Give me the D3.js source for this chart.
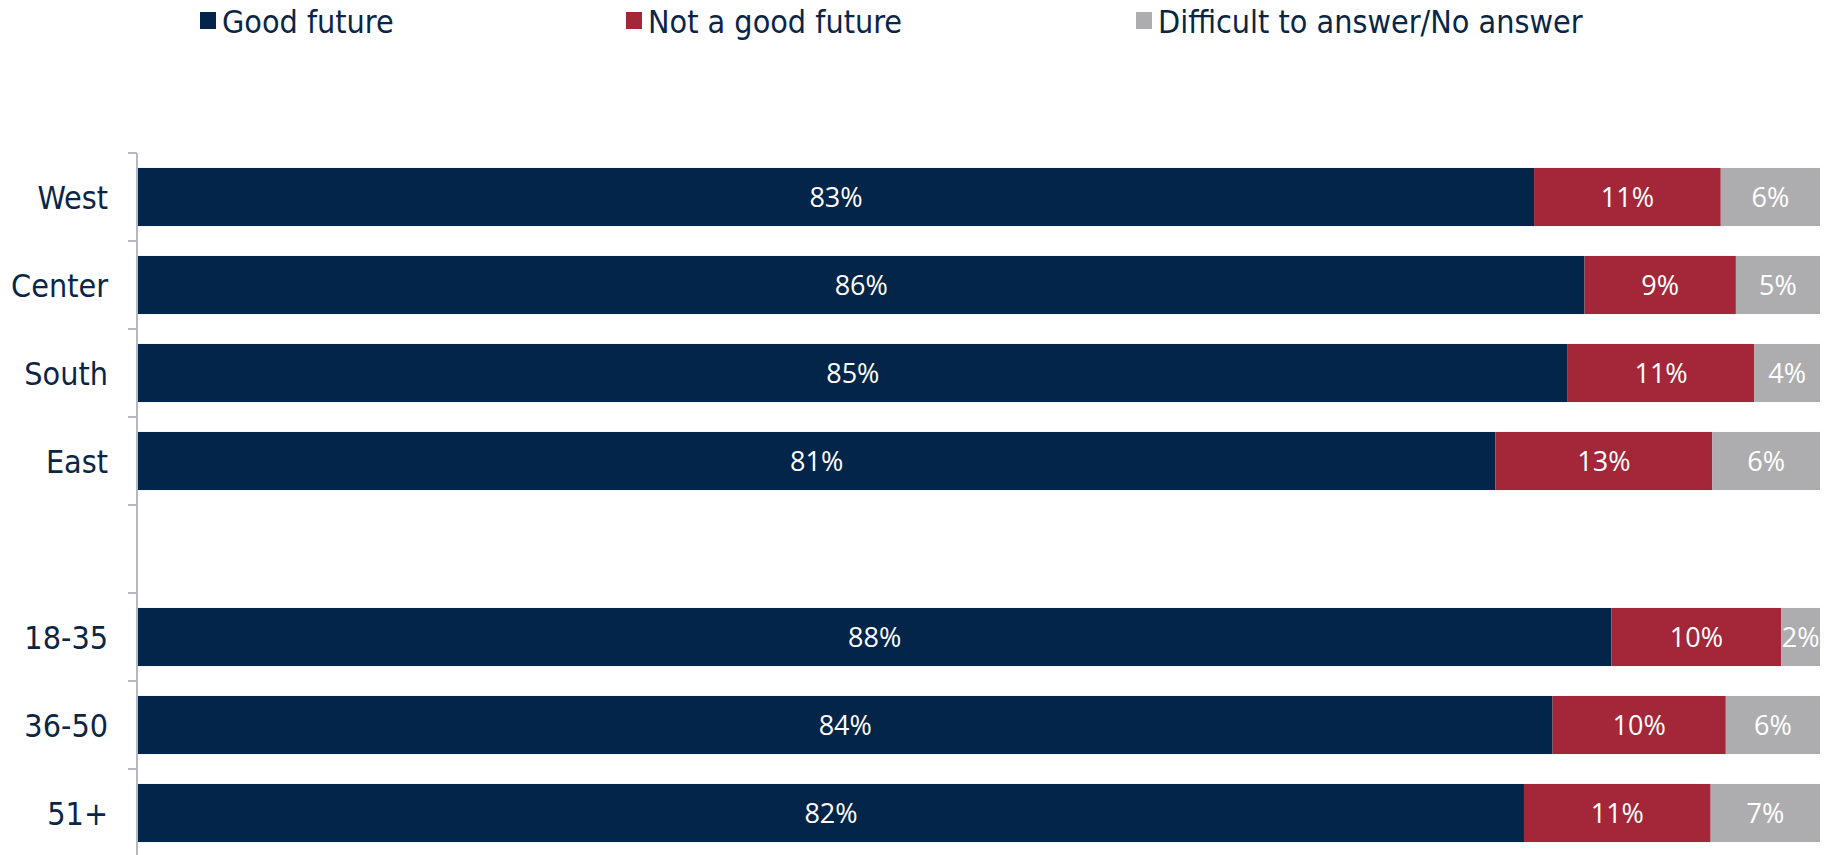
<!DOCTYPE html>
<html>
<head>
<meta charset="utf-8">
<script src="https://cdn.jsdelivr.net/npm/d3@7"></script>
<style>
  body { margin: 0; background: #fff; }
  svg { display: block; }
</style>
</head>
<body>
<div id="chart"></div>
<script>
'use strict'

var categories = ['West', 'Center', 'South', 'East', '', '18-35', '36-50', '51+']
// shares; labels show them rounded
var goodFuture = [83.0, 86.0, 85.0, 80.7, null, 87.6, 84.1, 82.4]
var notGoodFuture = [11.1, 9.0, 11.1, 12.9, null, 10.1, 10.3, 11.1]
var noAnswer = [5.9, 5.0, 3.9, 6.4, null, 2.3, 5.6, 6.5]
var seriesNames = ['Good future', 'Not a good future', 'Difficult to answer/No answer']
var colors = ['#022549', '#a32739', '#adadaf']

var width = 1824
var height = 855
var margin = { top: 153, left: 137, right: 4 }

var svg = d3.select('#chart').append('svg')
  .attr('width', width)
  .attr('height', height)

var x = d3.scaleLinear()
  .domain([0, 100])
  .range([margin.left + 1, width - margin.right])

var y = d3.scaleBand()
  .domain(categories)
  .range([margin.top, margin.top + 88 * categories.length])
  .paddingInner(0.34)
  .paddingOuter(0.17)

// stack the three series per row
var rows = categories.map(function (c, i) {
  return { cat: c, values: [goodFuture[i], notGoodFuture[i], noAnswer[i]] }
}).filter(function (r) { return r.values[0] !== null })

var segs = []
rows.forEach(function (r) {
  var acc = 0
  r.values.forEach(function (v, k) {
    segs.push({ cat: r.cat, k: k, x0: acc, x1: acc + v, v: v })
    acc += v
  })
})

svg.append('g').selectAll('rect')
  .data(segs)
  .join('rect')
  .attr('x', d => x(d.x0))
  .attr('y', d => y(d.cat))
  .attr('width', d => x(d.x1) - x(d.x0))
  .attr('height', y.bandwidth())
  .attr('fill', d => colors[d.k])

svg.append('g').selectAll('text')
  .data(segs)
  .join('text')
  .attr('x', d => (x(d.x0) + x(d.x1)) / 2)
  .attr('y', d => y(d.cat) + y.bandwidth() / 2)
  .attr('dy', '0.36em')
  .attr('text-anchor', 'middle')
  .attr('fill', '#fff')
  .style('font-family', '"Open Sans", sans-serif')
  .style('font-size', '27px')
  .text(d => Math.round(d.v) + '%')

// left axis: line, ticks at band boundaries, labels
var step = y.step()
var axis = svg.append('g')
axis.append('line')
  .attr('x1', margin.left).attr('x2', margin.left)
  .attr('y1', margin.top).attr('y2', height)
  .attr('stroke', '#b6b9c3').attr('stroke-width', 2)

var boundaries = categories.map(c => y(c) - y.paddingInner() * step / 2)
axis.selectAll('line.tick')
  .data(boundaries)
  .join('line')
  .attr('class', 'tick')
  .attr('x1', margin.left - 9).attr('x2', margin.left)
  .attr('y1', d => d).attr('y2', d => d)
  .attr('stroke', '#b6b9c3').attr('stroke-width', 2)

axis.selectAll('text')
  .data(categories)
  .join('text')
  .attr('x', 108)
  .attr('y', d => y(d) + y.bandwidth() / 2)
  .attr('dy', '0.36em')
  .attr('text-anchor', 'end')
  .attr('fill', '#0a2647')
  .style('font-family', '"DejaVu Sans Condensed", "DejaVu Sans", sans-serif')
  .style('font-size', '32px')
  .text(d => d)

// legend
var legendX = [200, 626, 1136]
var legend = svg.append('g').selectAll('g')
  .data(seriesNames)
  .join('g')
  .attr('transform', (d, i) => 'translate(' + legendX[i] + ',0)')

legend.append('rect')
  .attr('x', 0).attr('y', 12)
  .attr('width', 16).attr('height', 17)
  .attr('fill', (d, i) => colors[i])

legend.append('text')
  .attr('x', 22)
  .attr('y', 21)
  .attr('dy', '0.36em')
  .attr('fill', '#0a2647')
  .style('font-family', '"DejaVu Sans Condensed", "DejaVu Sans", sans-serif')
  .style('font-size', '32px')
  .text(d => d)
</script>
</body>
</html>
